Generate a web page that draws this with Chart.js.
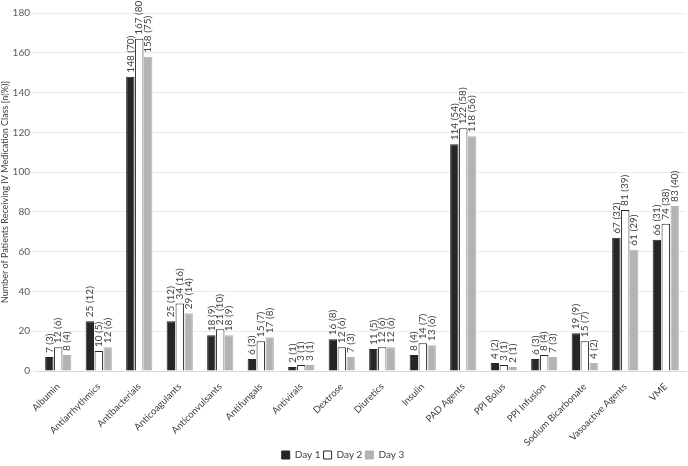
<!DOCTYPE html>
<html>
<head>
<meta charset="utf-8">
<script src="https://cdn.jsdelivr.net/npm/chart.js@4"></script>
<style>
  html, body { margin: 0; padding: 0; background: #fff; }
  #wrap { width: 688px; height: 466px; }
</style>
</head>
<body>
<div id="wrap"><canvas id="ivChart" width="688" height="466"></canvas></div>
<script>
// categories
const classes = ['Albumin', 'Antiarrhythmics', 'Antibacterials', 'Anticoagulants', 'Anticonvulsants',
  'Antifungals', 'Antivirals', 'Dextrose', 'Diuretics', 'Insulin', 'PAD Agents', 'PPI Bolus',
  'PPI Infusion', 'Sodium Bicarbonate', 'Vasoactive Agents', 'VME'];

// counts per day
const day1 = [7, 25, 148, 25, 18, 6, 2, 16, 11, 8, 114, 4, 6, 19, 67, 66];
const day2 = [12, 10, 167, 34, 21, 15, 3, 12, 12, 14, 122, 3, 8, 15, 81, 74];
const day3 = [8, 12, 158, 29, 18, 17, 3, 7, 12, 13, 118, 2, 7, 4, 61, 83];

// percentages shown in brackets
const pct1 = [3, 12, 70, 12, 9, 3, 1, 8, 5, 4, 54, 2, 3, 9, 32, 31];
const pct2 = [6, 5, 80, 16, 10, 7, 1, 6, 6, 7, 58, 1, 4, 7, 39, 38];
const pct3 = [4, 6, 75, 14, 9, 8, 1, 3, 6, 6, 56, 1, 3, 2, 29, 40];

const yTicks = [0, 20, 40, 60, 80, 100, 120, 140, 160, 180];

const FONT = 'Lato, "Open Sans", sans-serif';

// labels on top of bars, written upwards
const barLabels = {
  id: 'barLabels',
  afterDatasetsDraw(chart) {
    const c = chart.ctx;
    c.save();
    c.font = '10px ' + FONT;
    c.fillStyle = '#404040';
    c.textAlign = 'left';
    c.textBaseline = 'middle';
    chart.data.datasets.forEach((ds, i) => {
      const meta = chart.getDatasetMeta(i);
      meta.data.forEach((bar, j) => {
        const txt = ds.data[j] + ' (' + ds.pct[j] + ')';
        c.save();
        c.translate(bar.x, bar.y - 4);
        c.rotate(-Math.PI / 2);
        c.fillText(txt, 0, 0);
        c.restore();
      });
    });
    c.restore();
  }
};

new Chart(document.getElementById('ivChart'), {
  type: 'bar',
  data: {
    labels: classes,
    datasets: [
      { label: 'Day 1', data: day1, pct: pct1, backgroundColor: '#262626', borderColor: '#262626', borderWidth: 1 },
      { label: 'Day 2', data: day2, pct: pct2, backgroundColor: '#ffffff', borderColor: '#262626', borderWidth: 1 },
      { label: 'Day 3', data: day3, pct: pct3, backgroundColor: '#b3b3b3', borderColor: '#b3b3b3', borderWidth: 1 }
    ]
  },
  options: {
    responsive: false,
    animation: false,
    layout: { padding: { top: 13, right: 2, left: 0, bottom: -4 } },
    datasets: { bar: { barPercentage: 0.94, categoryPercentage: 0.66 } },
    plugins: {
      legend: {
        position: 'bottom',
        labels: {
          boxWidth: 8, boxHeight: 8, padding: 3,
          color: '#404040',
          font: { family: FONT, size: 10 }
        }
      },
      tooltip: { enabled: false }
    },
    scales: {
      x: {
        grid: { display: false },
        border: { color: '#d9d9d9' },
        afterFit(axis) { axis.height = 76; },
        ticks: {
          minRotation: 45, maxRotation: 45,
          padding: 2,
          color: '#404040',
          font: { family: FONT, size: 9.5 }
        }
      },
      y: {
        min: 0, max: 180,
        afterBuildTicks(axis) { axis.ticks = yTicks.map(v => ({ value: v })); },
        afterFit(axis) { axis.width = 38; },
        grid: { color: '#ececec' },
        border: { display: false },
        ticks: {
          padding: 0,
          color: '#595959',
          font: { family: FONT, size: 10 }
        },
        title: {
          display: true,
          text: 'Number of Patients Receiving IV Medication Class [n(%)]',
          color: '#404040',
          font: { family: FONT, size: 9 },
          padding: 0
        }
      }
    }
  },
  plugins: [barLabels]
});
</script>
</body>
</html>
